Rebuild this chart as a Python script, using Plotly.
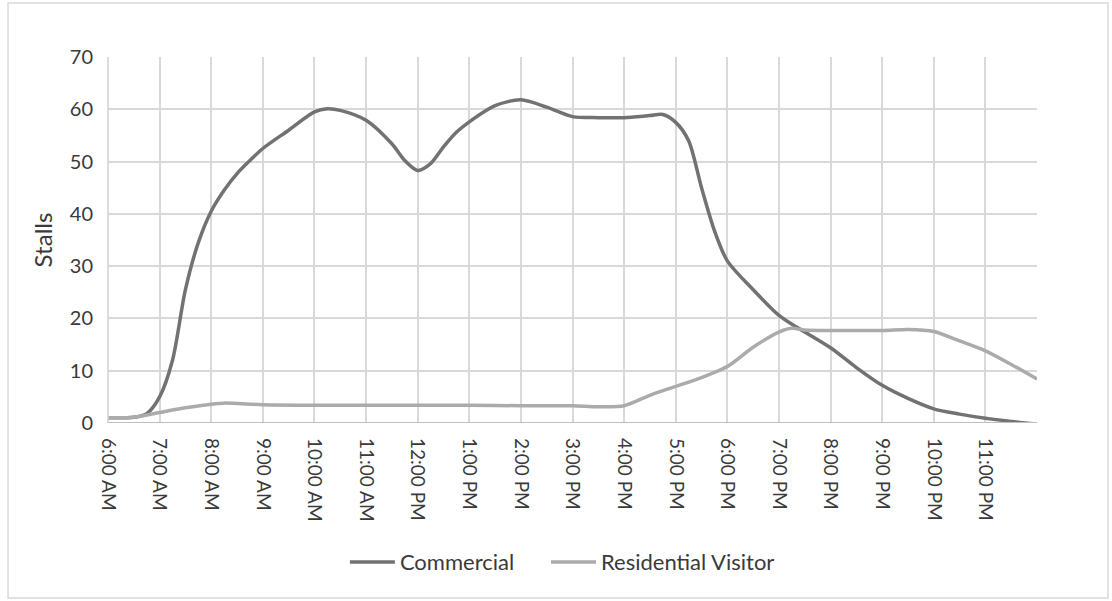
import plotly.graph_objects as go

# Time in hours (6 = 6:00 AM, 24 = 12:00 AM)
commercial_times = [6.0, 6.5, 6.75, 7.0, 7.25, 7.5, 7.75, 8.0, 8.25, 8.5, 8.75, 9.0, 9.5, 10.0, 10.25,
                    10.5, 11.0, 11.5, 11.75, 12.0, 12.25, 12.5, 12.75, 13.0, 13.5, 14.0, 14.5, 15.0,
                    15.5, 16.0, 16.5, 16.75, 17.0, 17.25, 17.5, 17.75, 18.0, 18.5, 19.0, 19.35, 20.0,
                    20.5, 21.0, 21.5, 22.0, 22.5, 23.0, 23.5, 24.0]
commercial_values = [1.0, 1.1, 1.8, 5.0, 12.0, 25.5, 34.5, 40.5, 44.5, 47.7, 50.2, 52.5, 56.0, 59.5, 60.1,
                     59.8, 57.9, 53.4, 50.2, 48.3, 49.6, 52.8, 55.6, 57.6, 60.7, 61.8, 60.4, 58.6,
                     58.4, 58.4, 58.8, 59.0, 57.5, 54.0, 45.0, 36.8, 31.0, 25.5, 20.6, 18.3, 14.4,
                     10.6, 7.2, 4.7, 2.7, 1.7, 0.9, 0.3, -0.2]

residential_times = [6.0, 6.5, 7.0, 7.5, 8.0, 8.25, 9.0, 10.0, 11.0, 12.0, 13.0, 14.0, 15.0, 15.5, 16.0,
                     16.5, 17.0, 17.5, 18.0, 18.5, 19.0, 19.25, 19.5, 20.0, 21.0, 21.5, 22.0, 22.5,
                     23.0, 23.5, 24.0]
residential_values = [1.0, 1.1, 2.0, 2.9, 3.6, 3.8, 3.5, 3.4, 3.4, 3.4, 3.4, 3.3, 3.3, 3.1, 3.3,
                      5.3, 7.0, 8.7, 10.8, 14.5, 17.4, 18.1, 17.8, 17.7, 17.7, 17.9, 17.5, 15.7,
                      13.8, 11.2, 8.4]

tick_hours = list(range(6, 24))
tick_labels = ["6:00 AM", "7:00 AM", "8:00 AM", "9:00 AM", "10:00 AM", "11:00 AM", "12:00 PM",
               "1:00 PM", "2:00 PM", "3:00 PM", "4:00 PM", "5:00 PM", "6:00 PM", "7:00 PM",
               "8:00 PM", "9:00 PM", "10:00 PM", "11:00 PM"]
y_ticks = [0, 10, 20, 30, 40, 50, 60, 70]

FONT = "Lato, 'Open Sans', sans-serif"
TXT = "#3a3a3a"

fig = go.Figure()
fig.add_trace(go.Scatter(x=commercial_times, y=commercial_values, mode="lines",
                         name="Commercial", legend="legend",
                         line=dict(color="#727272", width=3.5, shape="spline", smoothing=0.8)))
fig.add_trace(go.Scatter(x=residential_times, y=residential_values, mode="lines",
                         name="Residential Visitor", legend="legend2",
                         line=dict(color="#ababab", width=3.5, shape="spline", smoothing=0.8)))

legend_common = dict(orientation="h", xanchor="left", y=-0.38, yanchor="middle",
                     font=dict(size=22, color=TXT), itemwidth=45, bgcolor="rgba(0,0,0,0)")

fig.update_layout(
    width=1112, height=601,
    margin=dict(l=108, r=75, t=57, b=178),
    paper_bgcolor="white", plot_bgcolor="white",
    font=dict(family=FONT, size=19, color=TXT),
    showlegend=True,
    legend=dict(x=0.255, **legend_common),
    legend2=dict(x=0.4715, **legend_common),
    xaxis=dict(range=[6, 24], tickmode="array", tickvals=tick_hours, ticktext=tick_labels,
               tickangle=90, showgrid=True, gridcolor="#d9d9d9", gridwidth=1.5,
               zeroline=False, showline=False, ticks="", ticklabelstandoff=14,
               tickfont=dict(size=19, color=TXT)),
    yaxis=dict(range=[0, 70], tickmode="array", tickvals=y_ticks, showgrid=True,
               gridcolor="#d9d9d9", gridwidth=1.5, zeroline=False, showline=False, ticks="",
               ticklabelstandoff=14,
               title=dict(text="Stalls", font=dict(size=24, color=TXT), standoff=10),
               tickfont=dict(size=20, color=TXT)),
    shapes=[
        dict(type="line", xref="paper", yref="y", x0=0, x1=1, y0=0, y1=0,
             line=dict(color="#bfbfbf", width=2)),
        dict(type="line", xref="paper", yref="paper", x0=0, x1=0, y0=0, y1=1,
             line=dict(color="#d0d0d0", width=1.5)),
        dict(type="rect", xref="paper", yref="paper", x0=-0.1076, x1=1.0764, y0=-0.478, y1=1.1475,
             line=dict(color="#d9d9d9", width=1.5), fillcolor="rgba(0,0,0,0)"),
    ],
)

fig.write_html("out.html")
